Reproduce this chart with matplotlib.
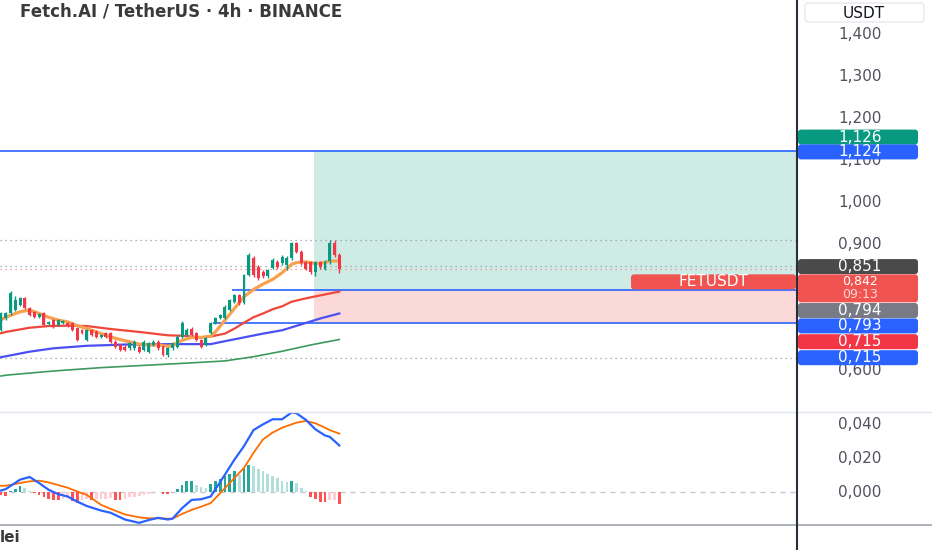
import numpy as np
import matplotlib.pyplot as plt
from matplotlib.patches import FancyBboxPatch
from matplotlib.lines import Line2D
from matplotlib.transforms import IdentityTransform

plt.rcParams['font.family'] = ['DejaVu Sans']

W, H = 932, 550

# Velas 4h FET/USDT
opens = [.698, .725, .737, .745, .757, .773, .749, .741, .728, .737, .712, .721,
         .709, .714, .714, .714, .702, .698, .674, .698, .694, .682, .690, .690,
         .670, .662, .658, .654, .654, .658, .650, .646, .662, .670, .658, .638,
         .654, .658, .682, .686, .701, .690, .674, .662, .690, .714, .726, .726,
         .745, .765, .781, .762, .829, .868, .848, .836, .825, .845, .860, .856,
         .853, .868, .904, .884, .860, .860, .836, .860, .844, .862, .905, .876]
highs = [.740, .740, .790, .779, .776, .776, .752, .744, .738, .740, .720, .724,
         .724, .721, .717, .717, .705, .701, .701, .701, .697, .689, .693, .693,
         .673, .665, .661, .669, .673, .661, .673, .669, .673, .673, .661, .657,
         .669, .686, .718, .702, .704, .693, .677, .681, .717, .729, .736, .756,
         .772, .783, .784, .832, .881, .873, .852, .840, .844, .868, .864, .876,
         .873, .906, .907, .887, .863, .863, .863, .863, .864, .912, .912, .880]
lows = [.695, .722, .734, .742, .754, .747, .730, .726, .725, .707, .709, .702,
        .706, .711, .704, .695, .671, .687, .671, .683, .679, .679, .679, .667,
        .655, .647, .647, .651, .651, .643, .647, .643, .659, .651, .635, .633,
        .651, .655, .679, .683, .683, .671, .655, .659, .687, .711, .723, .723,
        .742, .762, .758, .759, .826, .824, .817, .821, .822, .842, .844, .852,
        .840, .865, .880, .853, .840, .832, .826, .844, .840, .855, .872, .833]
closes = [.737, .737, .785, .769, .773, .750, .733, .729, .735, .710, .717, .705,
          .721, .718, .707, .698, .674, .690, .698, .686, .682, .686, .682, .670,
          .658, .650, .650, .666, .670, .646, .670, .666, .670, .654, .638, .654,
          .666, .682, .714, .698, .686, .674, .658, .678, .714, .726, .733, .753,
          .769, .781, .762, .829, .876, .829, .821, .825, .840, .864, .848, .872,
          .869, .904, .884, .856, .844, .836, .860, .848, .860, .905, .876, .842]

# Medias móviles
ema_fast_idx = [0, 1, 4, 6, 8, 10, 12, 14, 16, 18, 21, 23, 26, 29, 31, 33, 35, 36,
                38, 40, 42, 44, 45, 47, 49, 51, 53, 55, 57, 59, 61, 62, 64, 66, 68, 69, 71]
ema_fast = [.722, .728, .741, .745, .737, .728, .721, .717, .708, .701, .689, .681,
            .672, .664, .662, .662, .659, .661, .673, .680, .680, .683, .693, .721,
            .749, .777, .794, .807, .818, .834, .854, .858, .860, .856, .858, .862, .862]
ema_mid_idx = [0, 1, 4, 6, 10, 14, 18, 23, 29, 35, 38, 42, 44, 47, 49, 51, 53, 55,
               57, 59, 61, 64, 67, 71]
ema_mid = [.690, .693, .699, .703, .707, .708, .707, .700, .693, .685, .684, .680,
           .682, .689, .701, .715, .728, .737, .747, .754, .765, .773, .780, .789]
ema_slow_idx = [0, 1, 6, 11, 18, 26, 36, 44, 47, 51, 55, 59, 63, 67, 71]
ema_slow = [.633, .635, .646, .654, .660, .663, .664, .664, .671, .680, .689, .697,
            .711, .725, .737]
ema_long_idx = [0, 1, 11, 21, 31, 41, 47, 53, 59, 65, 71]
ema_long = [.588, .590, .600, .608, .614, .620, .624, .634, .647, .662, .675]

# MACD
macd_idx = [0, 1, 4, 6, 8, 10, 12, 14, 16, 18, 21, 23, 26, 29, 31, 33, 35, 36, 38,
            40, 42, 44, 47, 49, 51, 53, 55, 57, 59, 61, 62, 64, 66, 68, 69, 71]
macd_line = [0.0012, 0.0020, 0.0076, 0.0092, 0.0056, 0.0016, -0.0010, -0.0024,
             -0.0054, -0.0080, -0.0107, -0.0120, -0.0160, -0.0180, -0.0163, -0.0150,
             -0.0160, -0.0155, -0.0093, -0.0044, -0.0040, -0.0024, 0.0106, 0.0195,
             0.0275, 0.0370, 0.0404, 0.0434, 0.0434, 0.0474, 0.0470, 0.0430, 0.0374,
             0.0338, 0.0330, 0.0279]
signal_line = [0.0040, 0.0040, 0.0056, 0.0066, 0.0070, 0.0060, 0.0044, 0.0028,
               0.0006, -0.0014, -0.0073, -0.0097, -0.0130, -0.0147, -0.0153, -0.0153,
               -0.0155, -0.0155, -0.0127, -0.0103, -0.0084, -0.0063, 0.0026, 0.0086,
               0.0146, 0.0235, 0.0315, 0.0355, 0.0384, 0.0404, 0.0414, 0.0424, 0.0410,
               0.0384, 0.0370, 0.0349]
macd_hist = [-0.0015, -0.0020, 0.0006, 0.0020, 0.0036, 0.0026, 0.0006, -0.0003,
             -0.0014, -0.0024, -0.0040, -0.0044, -0.0046, -0.0040, -0.0034, -0.0050,
             -0.0060, -0.0044, -0.0040, -0.0044, -0.0040, -0.0036, -0.0036, -0.0032,
             -0.0044, -0.0046, -0.0040, -0.0028, -0.0024, -0.0020, -0.0014, -0.0008,
             0.0004, 0.0004, -0.0008, -0.0010, 0.0004, 0.0020, 0.0046, 0.0066,
             0.0068, 0.0046, 0.0030, 0.0026, 0.0050, 0.0070, 0.0080, 0.0096,
             0.0110, 0.0125, 0.0105, 0.0145, 0.0165, 0.0155, 0.0140, 0.0125,
             0.0110, 0.0100, 0.0085, 0.0066, 0.0060, 0.0070, 0.0056, 0.0026,
             0.0006, -0.0024, -0.0040, -0.0054, -0.0056, -0.0044, -0.0044, -0.0068]

# Niveles de la posición larga
target = 1.124
entry = 0.793
stop = 0.715
pos_start = 65.7
entry_line_start = 48.5
stop_line_start = 44.5
hi_level = 0.912
lo_level = 0.631
level_851 = 0.851
last_price = 0.842

# 0,800 y 0,700 quedan tapados por las etiquetas en el original
price_ticks = [1.4, 1.3, 1.2, 1.1, 1.0, 0.9, 0.6]
macd_ticks = [0.04, 0.02, 0.0]

tag_text = ['1,126', '1,124', '0,851', '0,842', '0,794', '0,793', '0,715', '0,715']
tag_price = [1.126, 1.124, 0.851, 0.842, 0.794, 0.793, 0.715, 0.715]
tag_color = ['#089981', '#2962ff', '#4a4a4a', '#f05350', '#787b86', '#2962ff',
             '#f23645', '#2962ff']
tag_shift = [-13, 1, 1, 19, 21, 36, 19, 35]   # desplazamiento en px (apilado)

# ---------------- figura ----------------
fig = plt.figure(figsize=(W / 100, H / 100), dpi=100)
ax = fig.add_axes([0, 1 - 412 / H, 797 / W, 412 / H])
ax2 = fig.add_axes([0, 25 / H, 797 / W, (525 - 412) / H])

x0, x1 = -0.21, 167.06
ax.set_xlim(x0, x1)
ax.set_ylim(0.50238, 1.48333)
ax2.set_xlim(x0, x1)
ax2.set_ylim(-0.01926, 0.0477)

for a in (ax, ax2):
    a.set_xticks([])
    a.set_yticks([])
    for s in a.spines.values():
        s.set_visible(False)
    a.patch.set_alpha(0)

# zona de beneficio / pérdida
ax.fill_between([pos_start, x1], entry, target, color='#ceebe6', lw=0, zorder=1)
ax.fill_between([pos_start, x1], stop, entry, color='#fcd9d9', lw=0, zorder=1)
ax.hlines(target, x0, x1, color='#2962ff', lw=1.2, zorder=2)
ax.hlines(entry, entry_line_start, x1, color='#2962ff', lw=1.2, zorder=2)
ax.hlines(stop, stop_line_start, x1, color='#2962ff', lw=1.2, zorder=2)

# líneas punteadas
ax.axhline(hi_level, color='#9598a1', lw=0.9, ls=(0, (1, 3)), zorder=2)
ax.axhline(level_851, color='#9598a1', lw=0.9, ls=(0, (1, 3)), zorder=2)
ax.axhline(last_price, color='#f28b82', lw=0.9, ls=(0, (1, 3)), zorder=2)
ax.axhline(lo_level, color='#9598a1', lw=0.9, ls=(0, (1, 3)), zorder=2)

# medias
ax.plot(ema_long_idx, ema_long, color='#3d9a5f', lw=1.2, zorder=3)
ax.plot(ema_slow_idx, ema_slow, color='#4c4ff2', lw=1.6, zorder=3)
ax.plot(ema_mid_idx, ema_mid, color='#f0463c', lw=1.6, zorder=3)
ax.plot(ema_fast_idx, ema_fast, color='#f9a14f', lw=2.3, zorder=3)

# velas
xs = np.arange(len(closes))
up = np.array(closes) >= np.array(opens)
cols = np.where(up, '#089981', '#f23645')
ax.vlines(xs, lows, highs, colors=cols, lw=1, zorder=4)
body = np.array(closes) - np.array(opens)
body = np.where(np.abs(body) < 0.002, 0.002, body)
ax.bar(xs, body, bottom=opens, width=0.62, color=cols, lw=0, zorder=5)

# MACD
hist_colors = []
prev = 0
for h in macd_hist:
    if h >= 0:
        hist_colors.append('#26a69a' if h >= prev else '#b2dfdb')
    else:
        hist_colors.append('#ff5252' if h < prev else '#ffcdd2')
    prev = h
ax2.axhline(0, color='#c3c6ce', lw=0.9, ls=(0, (4, 4)), zorder=1)
ax2.bar(np.arange(len(macd_hist)), macd_hist, width=0.56, color=hist_colors, lw=0, zorder=2)
ax2.plot(macd_idx, signal_line, color='#ff6d00', lw=1.3, zorder=3)
ax2.plot(macd_idx, macd_line, color='#2962ff', lw=1.6, zorder=4)

# separadores
fig.add_artist(Line2D([0, W], [H - 412, H - 412], transform=IdentityTransform(),
                      color='#e0e3eb', lw=1))
fig.add_artist(Line2D([0, W], [H - 525, H - 525], transform=IdentityTransform(),
                      color='#a3a6af', lw=1.2))
fig.add_artist(Line2D([797, 797], [0, H], transform=IdentityTransform(),
                      color='#2a2e39', lw=1.5))


def ypx(a, v):
    # posición vertical en px contada desde arriba
    return H - a.transData.transform((0, v))[1]


def put(x, y, s, **kw):
    fig.text(x, H - y, s, transform=IdentityTransform(), **kw)


def box(xl, yt, w, h, color, **kw):
    p = FancyBboxPatch((xl, H - yt - h), w, h, boxstyle='round,pad=0,rounding_size=3',
                       transform=IdentityTransform(), fc=color, **kw)
    fig.add_artist(p)


fmt = lambda v: f'{v:.3f}'.replace('.', ',')

for v in price_ticks:
    put(860, ypx(ax, v), fmt(v), ha='center', va='center', fontsize=11, color='#50535e')
for v in macd_ticks:
    put(860, ypx(ax2, v), fmt(v), ha='center', va='center', fontsize=11, color='#50535e')

for s, p, c, sh in zip(tag_text, tag_price, tag_color, tag_shift):
    yc = ypx(ax, p) + sh
    if p == last_price:
        box(798, yc - 14, 120, 28, c, ec='none', zorder=5)
        put(860, yc - 6.5, s, ha='center', va='center', fontsize=9, color='white', zorder=6)
        put(860, yc + 6.5, '09:13', ha='center', va='center', fontsize=9, color='#ffd6d4', zorder=6)
        box(631, yc - 14, 165, 15, c, ec='none', zorder=5)
        put(713, yc - 6.5, 'FETUSDT', ha='center', va='center', fontsize=11,
            color='white', zorder=6)
    else:
        box(798, yc - 7.5, 120, 15, c, ec='none', zorder=5)
        put(860, yc, s, ha='center', va='center', fontsize=11, color='white', zorder=6)

# cabecera y textos
box(805, 3, 119, 19, 'white', ec='#e0e3eb', lw=0.8, zorder=5)
put(864, 13, 'USDT', ha='center', va='center', fontsize=11, color='#131722', zorder=6)
put(20, 12, 'Fetch.AI / TetherUS · 4h · BINANCE', ha='left', va='center',
    fontsize=12, fontweight='bold', color='#3a3a3a')
put(0, 537, 'lei', ha='left', va='center', fontsize=11, fontweight='bold', color='#3a3a3a')

fig.savefig('out.png', dpi=100)
